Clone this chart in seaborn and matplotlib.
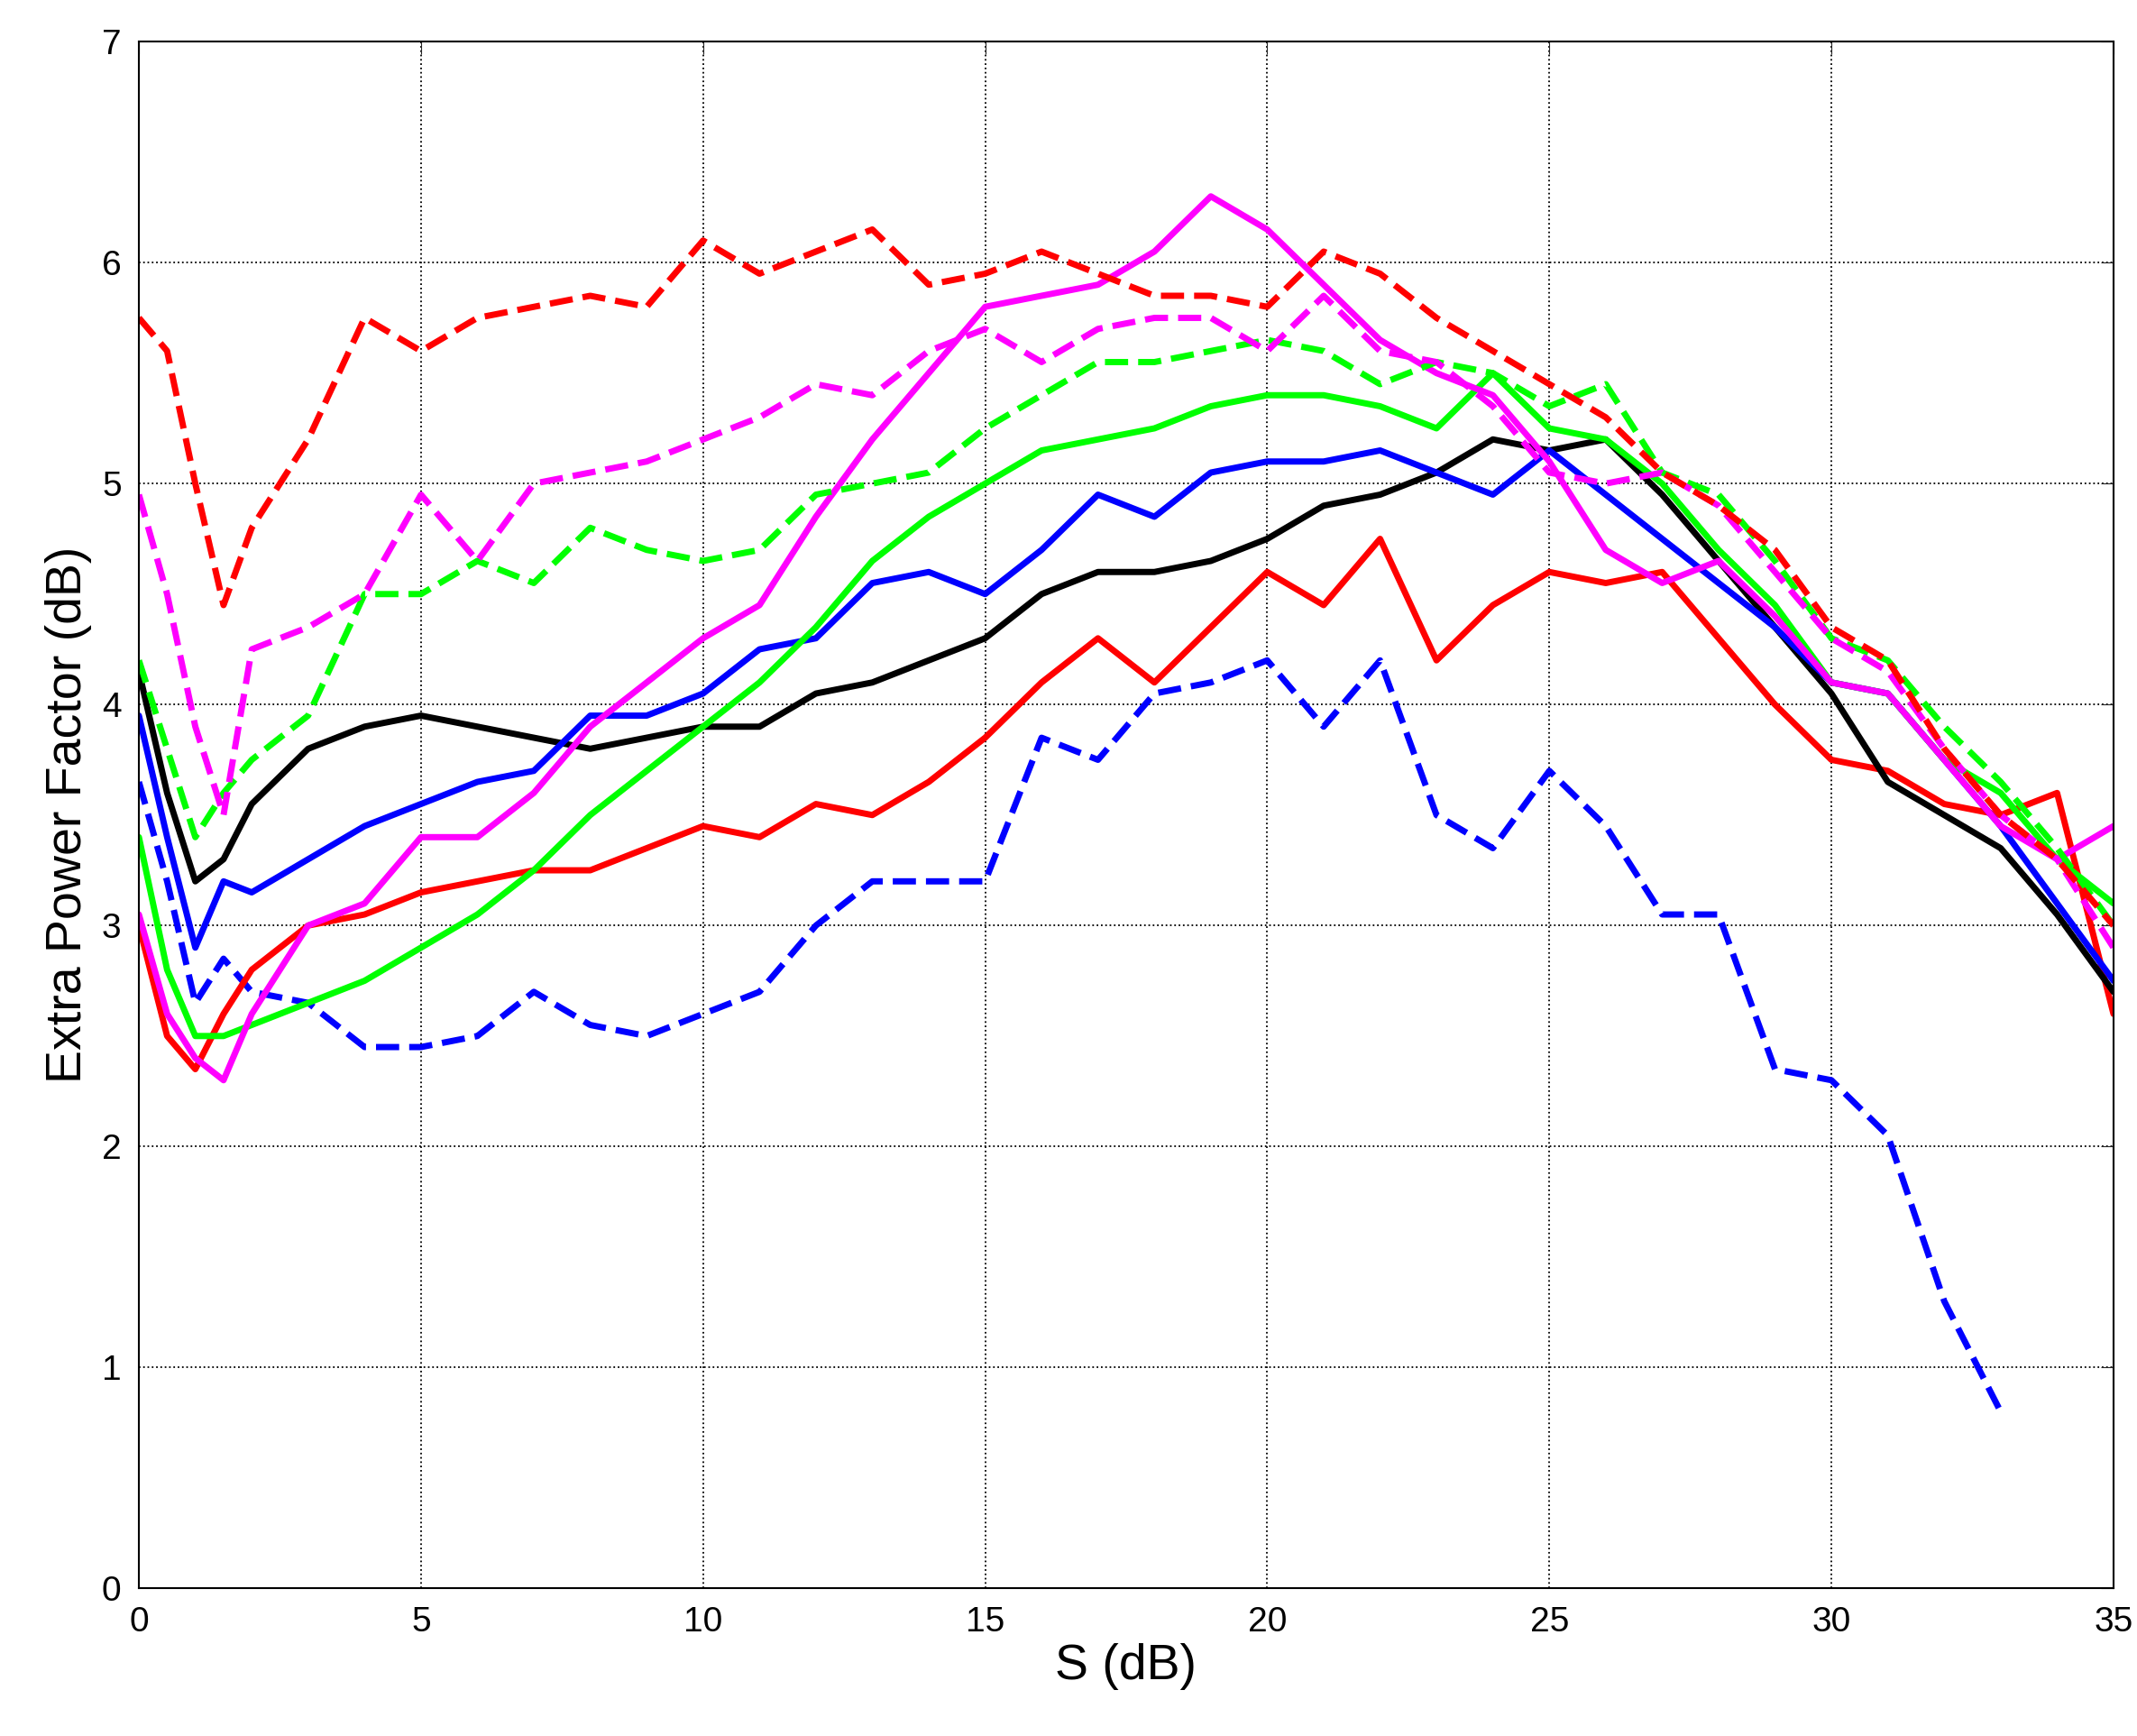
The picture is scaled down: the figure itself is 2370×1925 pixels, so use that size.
import numpy as np
import pandas as pd
import matplotlib
matplotlib.use("Agg")
import matplotlib.pyplot as plt
import seaborn as sns

nan = np.nan
x = [0, 0.5, 1, 1.5, 2, 3, 4, 5, 6, 7, 8, 9, 10, 11, 12, 13, 14, 15, 16, 17, 18,
     19, 20, 21, 22, 23, 24, 25, 26, 27, 28, 29, 30, 31, 32, 33, 34, 35]

red_dash = [5.75, 5.6, 5.0, 4.45, 4.8, 5.2, 5.75, 5.6, 5.75, 5.8, 5.85, 5.8, 6.1, 5.95, 6.05, 6.15, 5.9, 5.95, 6.05,
            5.95, 5.85, 5.85, 5.8, 6.05, 5.95, 5.75, 5.6, 5.45, 5.3, 5.05, 4.9, 4.7, 4.35, 4.2, 3.8, 3.5, 3.3, 3.0]
mag_dash = [4.95, 4.5, 3.9, 3.5, 4.25, 4.35, 4.5, 4.95, 4.65, 5.0, 5.05, 5.1, 5.2, 5.3, 5.45, 5.4, 5.6, 5.7, 5.55,
            5.7, 5.75, 5.75, 5.6, 5.85, 5.6, 5.55, 5.35, 5.05, 5.0, 5.05, 4.9, 4.6, 4.3, 4.15, 3.8, 3.5, 3.3, 2.9]
grn_dash = [4.2, 3.8, 3.4, 3.6, 3.75, 3.95, 4.5, 4.5, 4.65, 4.55, 4.8, 4.7, 4.65, 4.7, 4.95, 5.0, 5.05, 5.25, 5.4,
            5.55, 5.55, 5.6, 5.65, 5.6, 5.45, 5.55, 5.5, 5.35, 5.45, 5.05, 4.95, 4.65, 4.3, 4.2, 3.9, 3.65, 3.35, 3.0]
blu_dash = [3.65, 3.2, 2.65, 2.85, 2.7, 2.65, 2.45, 2.45, 2.5, 2.7, 2.55, 2.5, 2.6, 2.7, 3.0, 3.2, 3.2, 3.2, 3.85,
            3.75, 4.05, 4.1, 4.2, 3.9, 4.2, 3.5, 3.35, 3.7, 3.45, 3.05, 3.05, 2.35, 2.3, 2.05, 1.3, 0.8, nan, nan]
mag_solid = [3.05, 2.6, 2.4, 2.3, 2.6, 3.0, 3.1, 3.4, 3.4, 3.6, 3.9, 4.1, 4.3, 4.45, 4.85, 5.2, 5.5, 5.8, 5.85,
             5.9, 6.05, 6.3, 6.15, 5.9, 5.65, 5.5, 5.4, 5.1, 4.7, 4.55, 4.65, 4.4, 4.1, 4.05, 3.75, 3.45, 3.3, 3.45]
grn_solid = [3.4, 2.8, 2.5, 2.5, 2.55, 2.65, 2.75, 2.9, 3.05, 3.25, 3.5, 3.7, 3.9, 4.1, 4.35, 4.65, 4.85, 5.0, 5.15,
             5.2, 5.25, 5.35, 5.4, 5.4, 5.35, 5.25, 5.5, 5.25, 5.2, 5.0, 4.7, 4.45, 4.1, 4.05, 3.75, 3.6, 3.3, 3.1]
blu_solid = [3.95, 3.4, 2.9, 3.2, 3.15, 3.3, 3.45, 3.55, 3.65, 3.7, 3.95, 3.95, 4.05, 4.25, 4.3, 4.55, 4.6, 4.5, 4.7,
             4.95, 4.85, 5.05, 5.1, 5.1, 5.15, 5.05, 4.95, 5.15, 4.95, 4.75, 4.55, 4.35, 4.1, 4.05, 3.75, 3.45, 3.1, 2.75]
blk_solid = [4.15, 3.6, 3.2, 3.3, 3.55, 3.8, 3.9, 3.95, 3.9, 3.85, 3.8, 3.85, 3.9, 3.9, 4.05, 4.1, 4.2, 4.3, 4.5,
             4.6, 4.6, 4.65, 4.75, 4.9, 4.95, 5.05, 5.2, 5.15, 5.2, 4.95, 4.65, 4.35, 4.05, 3.65, 3.5, 3.35, 3.05, 2.7]
red_solid = [3.0, 2.5, 2.35, 2.6, 2.8, 3.0, 3.05, 3.15, 3.2, 3.25, 3.25, 3.35, 3.45, 3.4, 3.55, 3.5, 3.65, 3.85, 4.1,
             4.3, 4.1, 4.35, 4.6, 4.45, 4.75, 4.2, 4.45, 4.6, 4.55, 4.6, 4.3, 4.0, 3.75, 3.7, 3.55, 3.5, 3.6, 2.6]

series = [
    (blu_dash, "#0000ff", "--"),
    (red_solid, "#ff0000", "-"),
    (blk_solid, "#000000", "-"),
    (blu_solid, "#0000ff", "-"),
    (grn_solid, "#00ff00", "-"),
    (mag_solid, "#ff00ff", "-"),
    (grn_dash, "#00ff00", "--"),
    (mag_dash, "#ff00ff", "--"),
    (red_dash, "#ff0000", "--"),
]

sns.set_style("white")
plt.rcParams['font.family'] = ['Liberation Sans', 'DejaVu Sans']

fig = plt.figure(figsize=(23.7, 19.25), dpi=100)
ax = fig.add_axes([0.065, 0.085, 0.924, 0.891])

for ys, col, ls in series:
    sns.lineplot(x=x, y=ys, color=col, linestyle=ls, linewidth=5, ax=ax)

ax.set_xlim(0, 35)
ax.set_ylim(0, 7)
ax.set_xticks(range(0, 36, 5))
ax.set_yticks(range(0, 8))
ax.grid(True, color="black", linestyle=":", linewidth=1.3)
for s in ax.spines.values():
    s.set_visible(True)
    s.set_color("black")
    s.set_linewidth(1.5)
ax.tick_params(labelsize=28, labelcolor="black", direction="in", length=10,
               top=True, right=True, pad=14)
ax.set_xlabel("S (dB)", fontsize=40, color="black", labelpad=4)
ax.set_ylabel("Extra Power Factor (dB)", fontsize=40, color="black", labelpad=8)

fig.savefig("out.png", dpi=100)
